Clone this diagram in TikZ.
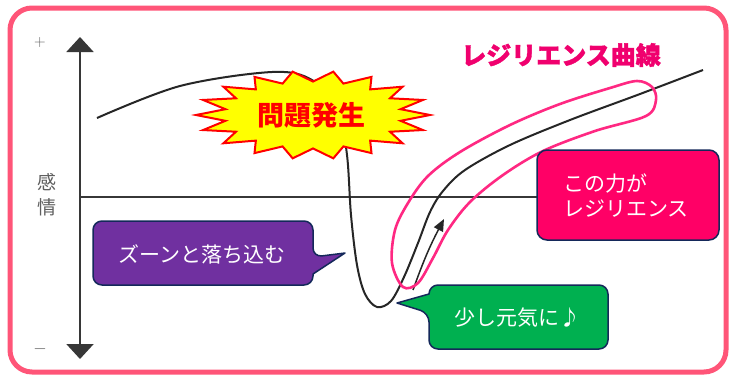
\documentclass[tikz,border=0pt]{standalone}
\usepackage{fontspec}
\newfontfamily\jp{Noto Sans CJK JP}
\newfontfamily\jpheavy{Noto Sans CJK JP}[BoldFeatures={FakeBold=1.5}]
\usetikzlibrary{arrows.meta}
\definecolor{framepink}{RGB}{255,85,120}
\definecolor{titlepink}{RGB}{240,0,110}
\definecolor{looppink}{RGB}{255,40,130}
\definecolor{navy}{RGB}{20,40,90}
\definecolor{purp}{RGB}{112,48,160}
\definecolor{grn}{RGB}{0,176,80}
\definecolor{hotpink}{RGB}{255,0,102}
\definecolor{starred}{RGB}{255,0,0}
\definecolor{staryel}{RGB}{255,255,0}
\definecolor{axisgray}{RGB}{55,55,55}
\definecolor{labelgray}{RGB}{95,95,95}
\tikzset{
  axisline/.style={axisgray, line width=2pt},
  curveline/.style={black!85, line width=2pt},
  callout/.style={draw=navy, line width=1.5pt, line join=round},
  callouttext/.style={text=white, font=\jp\fontsize{21}{25}\selectfont, inner sep=0pt},
  axislabel/.style={text=labelgray, inner sep=0pt},
}
\begin{document}
\begin{tikzpicture}[x=1pt,y=-1pt]
\useasboundingbox (0,0) rectangle (731,376);
\fill[white] (0,0) rectangle (731,376);
% frame
\draw[framepink, line width=5pt, rounded corners=22pt] (10,8) rectangle (726,372);

% axes
\coordinate (ytop) at (80,37);
\coordinate (ybot) at (80,359);
\coordinate (ymid) at (80,197);
\coordinate (xend) at (560,197);
\draw[axisline, -{Triangle[length=15pt,width=27pt]}] (ymid) -- (ytop);
\draw[axisline, -{Triangle[length=15pt,width=27pt]}] (ymid) -- (ybot);
\draw[axisline] (ymid) -- (xend);
\node[axislabel, font=\fontsize{16}{16}\selectfont] (plus) at (40,43) {+};
\node[axislabel, font=\fontsize{16}{16}\selectfont] (minus) at (40,349) {$-$};
\node[axislabel, font=\jp\fontsize{19}{25}\selectfont, align=center] (kanjo) at (47,195) {感\\情};

% main curve
\draw[curveline] plot[smooth, tension=0.55] coordinates {
 (97,118) (180,86) (272,72) (312,80) (338,110) (347,155) (351,215) (357,265) (365,294) (377,307) (391,301) (404,277) (418,243) (430,212) (443,191) (465,170) (510,145) (570,120) (640,94) (703,70)};

% small arrow
\coordinate (arrS) at (413,290);
\coordinate (arrE) at (444,219);
\draw[black!85, line width=1.5pt, -{Triangle[length=12pt,width=10pt]}] (arrS) to[bend left=4] (arrE);

% pink loop
\draw[looppink, line width=2.6pt] plot[smooth cycle, tension=0.55] coordinates {
 (403,287) (392,263) (395,230) (408,203) (428,176) (460,152) (510,125) (560,104) (610,88) (637,81) (652,87) (656,100) (646,116) (595,131) (543,151) (503,175) (470,202) (448,230) (433,258) (418,283)};

% starburst
\draw[starred, fill=staryel, line width=2pt, line join=miter]
  (430,115) \foreach \i [evaluate=\i as \r using {mod(\i,2)==0 ? 1 : 0.76}] in {1,...,35} { -- ({313+117*\r*cos(\i*10)}, {115+44*\r*sin(\i*10)}) } -- cycle;
\node[text=starred, inner sep=0pt, font=\jp\bfseries\fontsize{27}{30}\selectfont] (mondai) at (311,115) {問題発生};

% title
\node[text=titlepink, inner sep=0pt, font=\jpheavy\bfseries\fontsize{25}{28}\selectfont] (title) at (561,55) {レジリエンス曲線};

% purple callout
\coordinate (pTip) at (345,253);
\draw[callout, fill=purp] (93,253) [rounded corners=9pt] -- (93,221) -- (313,221) -- (313,257) [sharp corners] -- (pTip) -- (313,274) [rounded corners=9pt] -- (313,285) -- (93,285) -- cycle;
\node[callouttext] (zoon) at (202,254) {ズーンと落ち込む};

% green callout
\coordinate (gTip) at (397,303);
\draw[callout, fill=grn] (520,285) [rounded corners=9pt] -- (608,285) -- (608,349) -- (429,349) -- (429,313) [sharp corners] -- (gTip) -- (429,294) [rounded corners=9pt] -- (429,285) -- cycle;
\node[callouttext] (genki) at (517,318) {少し元気に♪};

% pink box
\node[callout, fill=hotpink, rounded corners=10pt, minimum width=182pt, minimum height=90pt, inner sep=0pt] (rbox) at (628,195) {};
\node[callouttext, anchor=west, align=left] (rtext) at (563,196) {この力が\\レジリエンス};
\end{tikzpicture}
\end{document}
